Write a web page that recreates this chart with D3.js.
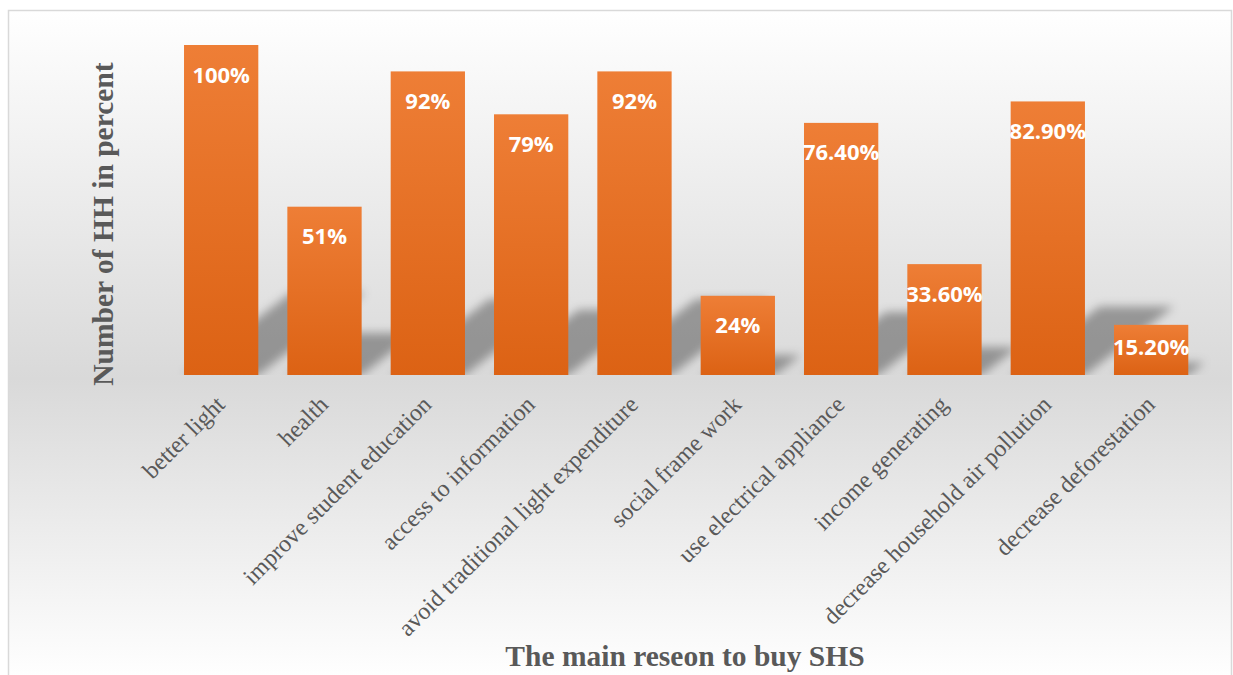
<!DOCTYPE html>
<html>
<head>
<meta charset="utf-8">
<script src="https://cdn.jsdelivr.net/npm/d3@7"></script>
<style>
  html, body { margin: 0; padding: 0; background: #ffffff; }
  svg { display: block; }
</style>
</head>
<body>
<svg id="chart" width="1233" height="675"></svg>
<script>
// Survey results: main reasons households gave for buying a solar home system
const categories = [
  "better light",
  "health",
  "improve student education",
  "access to information",
  "avoid traditional light expenditure",
  "social frame work",
  "use electrical appliance",
  "income generating",
  "decrease household air pollution",
  "decrease deforestation"
];
const values = [100, 51, 92, 79, 92, 24, 76.4, 33.6, 82.9, 15.2];
const valueLabels = ["100%", "51%", "92%", "79%", "92%", "24%", "76.40%", "33.60%", "82.90%", "15.20%"];
const yTitle = "Number of HH in percent";
const xTitle = "The main reseon to buy SHS";

const svg = d3.select("#chart");
const W = 1233, H = 675;
const baseY = 375, topY = 45;

const defs = svg.append("defs");

// chart area background: light at top and bottom, grey around the baseline
const bg = defs.append("linearGradient")
  .attr("id", "bgGrad").attr("gradientUnits", "userSpaceOnUse")
  .attr("x1", 0).attr("x2", 0).attr("y1", 10).attr("y2", 680);
bg.append("stop").attr("offset", "0%").attr("stop-color", "#ffffff");
bg.append("stop").attr("offset", "55%").attr("stop-color", "#d9d9d9");
bg.append("stop").attr("offset", "100%").attr("stop-color", "#ffffff");

// per-bar orange gradient
const barGrad = defs.append("linearGradient")
  .attr("id", "barGrad").attr("x1", 0).attr("x2", 0).attr("y1", 0).attr("y2", 1);
barGrad.append("stop").attr("offset", "0%").attr("stop-color", "#ee7e36");
barGrad.append("stop").attr("offset", "100%").attr("stop-color", "#dc6214");

// soft shadow blur
const blur = defs.append("filter").attr("id", "shadowBlur")
  .attr("x", "-50%").attr("y", "-50%").attr("width", "200%").attr("height", "200%");
blur.append("feGaussianBlur").attr("stdDeviation", 5);

defs.append("clipPath").attr("id", "aboveBase")
  .append("rect").attr("x", 0).attr("y", 0).attr("width", W).attr("height", baseY);

// chart frame
svg.append("rect")
  .attr("x", 8.5).attr("y", 10.5).attr("width", 1223).attr("height", 720)
  .attr("fill", "url(#bgGrad)").attr("stroke", "#d9d9d9").attr("stroke-width", 1.5);

const x = d3.scaleBand()
  .domain(categories)
  .range([169.5, 1202.8])
  .paddingInner(0.281)
  .paddingOuter(0.1405);

const y = d3.scaleLinear().domain([0, 100]).range([baseY, topY]);

const data = categories.map((c, i) => ({ cat: c, value: values[i], label: valueLabels[i] }));

// perspective shadows cast up and to the right of each bar
const shadowG = svg.append("g").attr("clip-path", "url(#aboveBase)")
  .append("g").attr("filter", "url(#shadowBlur)");
shadowG.selectAll("polygon")
  .data(data)
  .join("polygon")
  .attr("fill", "#000").attr("fill-opacity", 0.33)
  .attr("points", d => {
    const x0 = x(d.cat), x1 = x0 + x.bandwidth();
    const h = y(0) - y(d.value);
    const sh = 0.25 * h, dx = 1.3 * sh;
    return [[x0, y(0)], [x1, y(0)], [x1 + dx, y(0) - sh], [x0 + dx, y(0) - sh]]
      .map(p => p.join(",")).join(" ");
  });

// bars
svg.append("g").selectAll("rect")
  .data(data)
  .join("rect")
  .attr("x", d => x(d.cat))
  .attr("y", d => y(d.value))
  .attr("width", x.bandwidth())
  .attr("height", d => y(0) - y(d.value))
  .attr("fill", "url(#barGrad)");

// value labels inside the bar tops
svg.append("g").selectAll("text")
  .data(data)
  .join("text")
  .attr("x", d => x(d.cat) + x.bandwidth() / 2)
  .attr("y", d => {
    const h = y(0) - y(d.value);
    return y(d.value) + Math.min(37.5, h * 0.6);
  })
  .attr("text-anchor", "middle")
  .attr("fill", "#ffffff")
  .attr("font-family", "'Open Sans', sans-serif")
  .attr("font-weight", 700)
  .attr("font-size", 22)
  .text(d => d.label);

// category axis, rotated labels
const xAxis = svg.append("g")
  .attr("transform", `translate(0,${baseY})`)
  .call(d3.axisBottom(x).tickSize(0).tickPadding(0));
xAxis.select(".domain").remove();
xAxis.selectAll(".tick text")
  .attr("font-family", "'Liberation Serif', 'Times New Roman', serif")
  .attr("font-size", 24)
  .attr("fill", "#595959")
  .attr("text-anchor", "end")
  .attr("dy", null)
  .attr("y", 0)
  .attr("transform", "translate(5,31) rotate(-45)");

// axis titles
svg.append("text")
  .attr("transform", "translate(113,224) rotate(-90)")
  .attr("text-anchor", "middle")
  .attr("font-family", "'Liberation Serif', 'Times New Roman', serif")
  .attr("font-weight", 700)
  .attr("font-size", 29.5)
  .attr("fill", "#595959")
  .text(yTitle);

svg.append("text")
  .attr("x", 685).attr("y", 666)
  .attr("text-anchor", "middle")
  .attr("font-family", "'Liberation Serif', 'Times New Roman', serif")
  .attr("font-weight", 700)
  .attr("font-size", 29.5)
  .attr("fill", "#595959")
  .text(xTitle);
</script>
</body>
</html>
